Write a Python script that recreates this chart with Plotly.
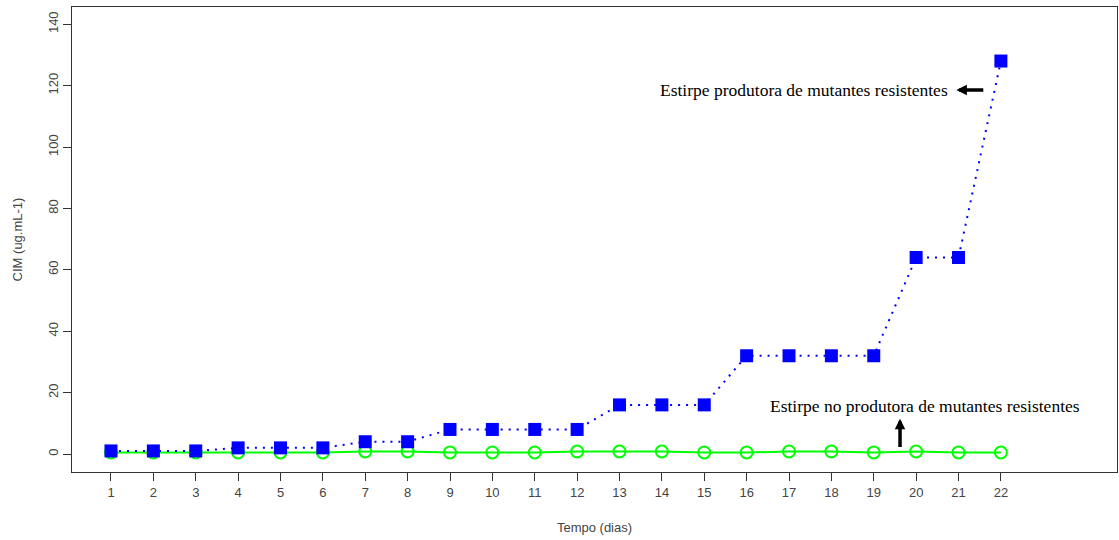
import plotly.graph_objects as go

# Days of the experiment
dias = list(range(1, 23))
# MIC of the strain that produces resistant mutants
cim_produtora = [1, 1, 1, 2, 2, 2, 4, 4, 8, 8, 8, 8, 16, 16, 16, 32, 32, 32, 32, 64, 64, 128]
# MIC of the strain that does not produce resistant mutants
cim_no_produtora = [0.5, 0.5, 0.5, 0.5, 0.5, 0.5, 0.8, 0.8, 0.5, 0.5, 0.5, 0.8,
                    0.8, 0.8, 0.5, 0.5, 0.8, 0.8, 0.5, 0.8, 0.5, 0.5]
y_ticks = [0, 20, 40, 60, 80, 100, 120, 140]

fig = go.Figure()
fig.add_trace(go.Scatter(
    x=dias, y=cim_no_produtora, mode="lines+markers",
    line=dict(color="#00ff00", width=2),
    marker=dict(symbol="circle-open", size=12, color="#00ff00", line=dict(width=2)),
    showlegend=False,
))
fig.add_trace(go.Scatter(
    x=dias, y=cim_produtora, mode="lines+markers",
    line=dict(color="#0000ff", width=2, dash="2px,6px"),
    marker=dict(symbol="square", size=13, color="#0000ff"),
    showlegend=False,
))

serif = dict(family="Liberation Serif, Times New Roman, serif", size=17.5, color="black")
fig.add_annotation(
    x=20.95, y=118.6, ax=21.62, ay=118.6, xref="x", yref="y", axref="x", ayref="y",
    showarrow=True, arrowhead=2, arrowsize=0.6, arrowwidth=3.5, arrowcolor="black", text="",
)
fig.add_annotation(
    x=20.8, y=118.6, xref="x", yref="y", text="Estirpe produtora de mutantes resistentes",
    showarrow=False, xanchor="right", yanchor="middle", font=serif,
)
fig.add_annotation(
    x=19.62, y=11.5, ax=19.62, ay=1.8, xref="x", yref="y", axref="x", ayref="y",
    showarrow=True, arrowhead=2, arrowsize=0.6, arrowwidth=3.5, arrowcolor="black", text="",
)
fig.add_annotation(
    x=20.21, y=15.5, xref="x", yref="y", text="Estirpe no produtora de mutantes resistentes",
    showarrow=False, xanchor="center", yanchor="middle", font=serif,
)

axis_font = dict(family="Liberation Sans, Arial, sans-serif", size=13, color="#444444")
fig.update_layout(
    width=1119, height=540,
    margin=dict(l=72, r=2, t=7, b=68),
    paper_bgcolor="white", plot_bgcolor="white",
    font=axis_font,
    xaxis=dict(
        range=[0.08, 24.74], tickmode="array", tickvals=dias, ticktext=[str(d) for d in dias],
        ticks="outside", ticklen=8, tickcolor="#333333", showgrid=False, zeroline=False,
        showline=True, mirror=True, linecolor="#333333", linewidth=1,
        title=dict(text="Tempo (dias)", font=axis_font, standoff=24),
    ),
    yaxis=dict(
        range=[-5.86, 145.6], tickmode="array", tickvals=y_ticks,
        ticks="outside", ticklen=8, tickcolor="#333333", tickangle=-90,
        showgrid=False, zeroline=False,
        showline=True, mirror=True, linecolor="#333333", linewidth=1,
        title=dict(text="CIM (ug.mL-1)", font=axis_font, standoff=20),
    ),
)

fig.write_html("out.html")
